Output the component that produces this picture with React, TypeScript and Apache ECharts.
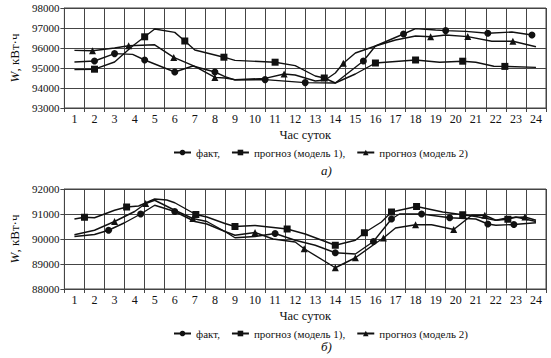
import React, { useEffect, useRef } from 'react';
import * as echarts from 'echarts';

const hourLabels = ['1','2','3','4','5','6','7','8','9','10','11','12','13','14','15','16','17','18','19','20','21','22','23','24'];
const seriesNames = ['факт,', 'прогноз (модель 1),', 'прогноз (модель 2)'];

// Chart а)
const factAX = [1, 2, 3, 3.9, 4.5, 6, 6.9, 8, 8.5, 9, 10.5, 12.5, 14, 15.4, 16, 17.4, 18, 19, 19.5, 20.5, 21.6, 22.8, 23.8];
const factAY = [95300, 95350, 95720, 95680, 95400, 94800, 95100, 94800, 94570, 94400, 94420, 94270, 94250, 95350, 96100, 96700, 96970, 96900, 96870, 96830, 96740, 96800, 96650];
const factAMarks = [2, 3, 4.5, 6, 8, 10.5, 12.5, 15.4, 17.4, 19.5, 21.6, 23.8];

const model1AX = [1, 2, 3, 3.9, 4.5, 5, 6, 6.5, 7, 8.45, 9, 11, 12, 13, 13.45, 14, 15, 16, 18, 19.2, 20.35, 21, 21.9, 22.45, 24];
const model1AY = [94920, 94940, 95300, 96100, 96560, 96950, 96780, 96350, 95900, 95540, 95380, 95290, 95120, 94600, 94500, 94250, 94700, 95250, 95400, 95290, 95340, 95290, 95090, 95080, 95030];
const model1AMarks = [2, 4.5, 6.5, 8.45, 11, 13.45, 16, 18, 20.35, 22.45];

const model2AX = [1, 1.9, 3, 3.7, 5, 5.95, 7, 8, 8.5, 9, 10.5, 11.45, 12, 13, 13.5, 14, 14.4, 15, 16, 17, 18, 18.75, 19.5, 20.6, 21.8, 22.85, 24];
const model2AY = [95880, 95860, 96000, 96110, 96160, 95530, 95080, 94530, 94500, 94420, 94480, 94700, 94650, 94350, 94400, 94750, 95240, 95750, 96100, 96400, 96600, 96560, 96650, 96570, 96340, 96340, 96060];
const model2AMarks = [1.9, 3.7, 5.95, 8, 11.45, 14.4, 18.75, 20.6, 22.85];

// Chart б)
const factBX = [1, 2, 2.7, 3.5, 4.3, 5, 6, 7, 7.6, 8.5, 9, 10, 11, 12, 13, 14, 15, 15.9, 16.8, 17.2, 18.3, 19.7, 21, 21.6, 22, 22.9, 24];
const factBY = [90100, 90180, 90350, 90650, 91000, 91350, 91100, 90700, 90600, 90300, 90050, 90100, 90220, 89950, 89750, 89450, 89400, 89900, 90800, 91000, 91000, 90850, 90800, 90600, 90550, 90580, 90650];
const factBMarks = [2.7, 4.3, 6, 11, 14, 15.9, 16.8, 18.3, 19.7, 21.6, 22.9];

const model1BX = [1, 1.5, 2, 3, 3.6, 4.2, 5, 5.6, 6, 7.05, 7.6, 8.5, 9, 10, 11.6, 12.5, 14, 15, 15.45, 16.3, 16.8, 18.05, 19.35, 20.35, 21, 22, 22.6, 23, 24];
const model1BY = [90800, 90870, 90850, 91150, 91280, 91320, 91600, 91560, 91450, 90980, 90880, 90620, 90500, 90540, 90400, 90200, 89750, 89950, 90250, 90680, 91080, 91300, 91080, 90970, 90900, 90750, 90790, 90880, 90700];
const model1BMarks = [1.5, 3.6, 7.05, 9, 11.6, 14, 15.45, 16.8, 18.05, 20.35, 22.6];

const model2BX = [1, 2, 3, 4, 4.55, 5, 6, 6.9, 7.6, 8.5, 9, 10, 10.9, 12, 12.45, 14, 15, 16.1, 16.4, 17, 18, 18.8, 19.9, 20.8, 21.45, 22, 22.6, 23.45, 24];
const model2BY = [90170, 90350, 90700, 91100, 91420, 91550, 91150, 90820, 90700, 90300, 90150, 90260, 90000, 89880, 89610, 88850, 89250, 89880, 90040, 90440, 90570, 90570, 90380, 90950, 90950, 90750, 90850, 90880, 90750];
const model2BMarks = [3, 4.55, 6.9, 10, 12.45, 14, 15, 16.4, 18, 19.9, 21.45, 23.45];

const FONT = 'Liberation Serif';
const INK = '#111';
const GRIDC = '#444';

function buildData(xs: number[], ys: number[], marks: number[], symbol: string) {
  return xs.map((x, i) => ({ value: [x, ys[i]], symbol: marks.includes(x) ? symbol : 'none' }));
}

function lineSeries(name: string, gi: number, xs: number[], ys: number[], marks: number[], symbol: string, size: number) {
  return {
    type: 'line',
    name,
    xAxisIndex: gi * 2 + 1,
    yAxisIndex: gi,
    symbol,
    symbolSize: size,
    showAllSymbol: true,
    itemStyle: { color: INK },
    lineStyle: { color: INK, width: 1.4 },
    data: buildData(xs, ys, marks, symbol),
  };
}

function catAxis(gi: number) {
  return {
    type: 'category',
    gridIndex: gi,
    data: hourLabels,
    boundaryGap: true,
    name: 'Час суток',
    nameLocation: 'middle',
    nameGap: 20,
    nameTextStyle: { fontFamily: FONT, fontSize: 12.5, color: INK },
    axisLine: { lineStyle: { color: GRIDC, width: 1 } },
    axisTick: { show: true, interval: 0, length: 4, lineStyle: { color: GRIDC } },
    axisLabel: { interval: 0, fontFamily: FONT, fontSize: 12, color: INK, margin: 5 },
    splitLine: { show: true, interval: 0, lineStyle: { color: GRIDC, width: 1 } },
  };
}

function valXAxis(gi: number) {
  return { type: 'value', gridIndex: gi, min: 0.5, max: 24.5, show: false };
}

function yAxis(gi: number, min: number, max: number) {
  return {
    type: 'value',
    gridIndex: gi,
    min,
    max,
    interval: 1000,
    name: '{w|W}, кВт·ч',
    nameLocation: 'middle',
    nameGap: 40,
    nameRotate: 90,
    nameTextStyle: {
      fontFamily: FONT, fontSize: 13, color: INK,
      rich: { w: { fontFamily: FONT, fontSize: 13, fontStyle: 'italic', color: INK } },
    },
    axisLine: { show: true, lineStyle: { color: GRIDC } },
    axisTick: { show: true, length: 4, lineStyle: { color: GRIDC } },
    axisLabel: { fontFamily: FONT, fontSize: 11, color: INK, margin: 5, formatter: (v: number) => String(v) },
    splitLine: { show: true, lineStyle: { color: GRIDC, width: 1 } },
  };
}

function legend(top: number) {
  return {
    top,
    left: 173,
    itemWidth: 17,
    itemHeight: 7,
    itemGap: 11,
    padding: 0,
    textStyle: { fontFamily: FONT, fontSize: 11, color: INK },
    data: seriesNames,
  };
}

export default function App() {
  const ref = useRef<HTMLDivElement>(null);
  useEffect(() => {
    document.body.style.margin = '0';
    const chart = echarts.init(ref.current!, null, { renderer: 'svg' });
    chart.setOption({
      animation: false,
      backgroundColor: '#fff',
      grid: [
        { left: 57, right: 5, top: 8, height: 100, show: true, borderColor: GRIDC, borderWidth: 1 },
        { left: 57, right: 5, top: 189, height: 100, show: true, borderColor: GRIDC, borderWidth: 1 },
      ],
      xAxis: [catAxis(0), valXAxis(0), catAxis(1), valXAxis(1)],
      yAxis: [yAxis(0, 93000, 98000), yAxis(1, 88000, 92000)],
      legend: [legend(147), legend(328)],
      series: [
        lineSeries(seriesNames[0], 0, factAX, factAY, factAMarks, 'circle', 7),
        lineSeries(seriesNames[1], 0, model1AX, model1AY, model1AMarks, 'rect', 7),
        lineSeries(seriesNames[2], 0, model2AX, model2AY, model2AMarks, 'triangle', 7),
        lineSeries(seriesNames[0], 1, factBX, factBY, factBMarks, 'circle', 7),
        lineSeries(seriesNames[1], 1, model1BX, model1BY, model1BMarks, 'rect', 7),
        lineSeries(seriesNames[2], 1, model2BX, model2BY, model2BMarks, 'triangle', 7),
      ],
      graphic: [
        { type: 'text', left: 321, top: 164, style: { text: 'а)', fontFamily: FONT, fontSize: 13, fontStyle: 'italic', fill: INK } },
        { type: 'text', left: 321, top: 340, style: { text: 'б)', fontFamily: FONT, fontSize: 13, fontStyle: 'italic', fill: INK } },
      ],
    });
    return () => chart.dispose();
  }, []);
  return <div ref={ref} style={{ width: 551, height: 358 }} />;
}
